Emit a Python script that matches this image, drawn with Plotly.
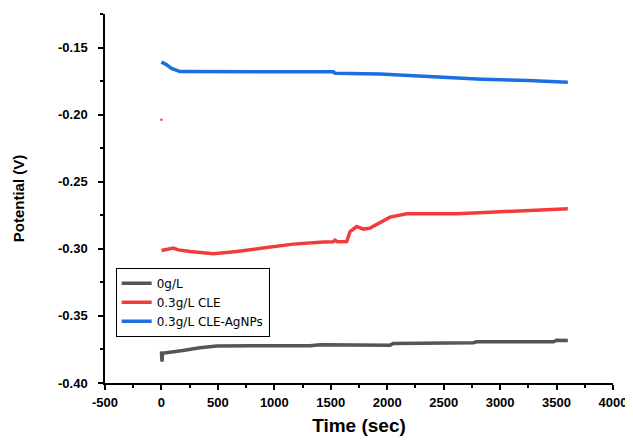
import plotly.graph_objects as go

# ---- data ----
t_0 = [0, 5, 10, 16, 60, 105, 190, 340, 490, 800, 1316, 1405, 2025, 2054, 2763, 2793, 3472, 3501, 3600]
v_0 = [-0.3765, -0.3840, -0.3770, -0.3778, -0.3772, -0.3765, -0.3758, -0.3738, -0.3725, -0.3723, -0.3723,
       -0.3715, -0.3718, -0.3706, -0.3700, -0.3693, -0.3693, -0.3681, -0.3683]

t_cle = [0, 60, 105, 150, 253, 460, 667, 932, 1168, 1434, 1520, 1538, 1560, 1641, 1671, 1730, 1789, 1848,
         1937, 2025, 2173, 2616, 2911, 3354, 3600]
v_cle = [-0.3013, -0.3005, -0.2995, -0.3008, -0.3020, -0.3037, -0.3020, -0.2990, -0.2965, -0.2950, -0.2948,
         -0.2935, -0.2948, -0.2945, -0.2871, -0.2834, -0.2853, -0.2846, -0.2804, -0.2764, -0.2739, -0.2739,
         -0.2727, -0.2715, -0.2702]

t_cle_outlier = [0]
v_cle_outlier = [-0.2039]

t_ag = [0, 40, 90, 165, 1523, 1538, 1937, 2261, 2450, 2837, 3250, 3501, 3600]
v_ag = [-0.1609, -0.1625, -0.1655, -0.1679, -0.1681, -0.1691, -0.1698, -0.1711, -0.1724, -0.1736, -0.1746,
        -0.1756, -0.1758]

series_names = ["0g/L", "0.3g/L CLE", "0.3g/L CLE-AgNPs"]

x_tickvals = [-500, 0, 500, 1000, 1500, 2000, 2500, 3000, 3500, 4000]
x_ticktext = ["-500", "0", "500", "1000", "1500", "2000", "2500", "3000", "3500", "4000"]
y_tickvals = [-0.40, -0.35, -0.30, -0.25, -0.20, -0.15]
y_ticktext = ["-0.40", "-0.35", "-0.30", "-0.25", "-0.20", "-0.15"]

fig = go.Figure()
fig.add_trace(go.Scatter(x=t_0, y=v_0, mode="lines", name=series_names[0],
                         line=dict(color="#555555", width=3.5)))
fig.add_trace(go.Scatter(x=t_cle, y=v_cle, mode="lines", name=series_names[1],
                         line=dict(color="#f23c3c", width=3.5)))
fig.add_trace(go.Scatter(x=t_cle_outlier, y=v_cle_outlier, mode="markers", showlegend=False,
                         marker=dict(color="#f23c3c", size=2.5)))
fig.add_trace(go.Scatter(x=t_ag, y=v_ag, mode="lines", name=series_names[2],
                         line=dict(color="#1c6fe0", width=3.5)))

tickfont = dict(family="Arial", size=13, color="black", weight="bold")
fig.update_layout(
    width=624, height=430,
    margin=dict(l=97, r=19, t=6, b=55),
    paper_bgcolor="white", plot_bgcolor="white",
    font=dict(family="Arial", color="black"),
    xaxis=dict(range=[-500, 4000], tickvals=x_tickvals, ticktext=x_ticktext, automargin=False,
               showline=True, linecolor="black", linewidth=1.5, showgrid=False, zeroline=False,
               ticks="outside", ticklen=5, tickwidth=1.5, tickcolor="black", tickfont=tickfont,
               ticklabelstandoff=2,
               minor=dict(ticks="outside", ticklen=3, tickwidth=1.5, tickcolor="black", dtick=250),
               title=dict(text="Time (sec)", font=dict(family="Arial", size=19, weight="bold"), standoff=9)),
    yaxis=dict(range=[-0.40, -0.125], tickvals=y_tickvals, ticktext=y_ticktext, automargin=False,
               showline=True, linecolor="black", linewidth=1.5, showgrid=False, zeroline=False,
               ticks="outside", ticklen=5, tickwidth=1.5, tickcolor="black", tickfont=tickfont,
               ticklabelstandoff=8,
               minor=dict(ticks="outside", ticklen=3, tickwidth=1.5, tickcolor="black", dtick=0.025),
               title=dict(text="Potential (V)", font=dict(family="Arial", size=15, weight="bold"), standoff=30)),
    legend=dict(x=0.021, y=0.312, xanchor="left", yanchor="top",
                bgcolor="white", bordercolor="black", borderwidth=1,
                font=dict(family="DejaVu Sans", size=12, color="black"),
                tracegroupgap=0, itemwidth=30),
)

fig.write_html("out.html")
